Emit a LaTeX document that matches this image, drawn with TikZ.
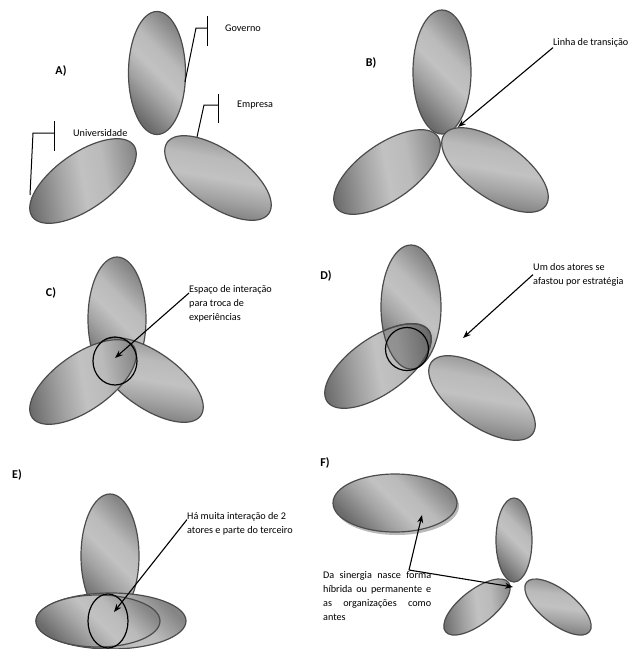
\documentclass[tikz,border=0pt]{standalone}
\usepackage{fontspec}
\setmainfont{Carlito}
\usetikzlibrary{arrows.meta}

\pgfdeclarehorizontalshading{actorshade}{100bp}{color(0bp)=(black!58); color(25bp)=(black!58); color(40bp)=(black!36); color(50bp)=(black!24); color(60bp)=(black!27); color(75bp)=(black!48); color(100bp)=(black!48)}

\tikzset{
  actor/.style={draw=black!70, line width=1.2pt, shading=actorshade, shading angle=#1},
  actor/.default=45,
  ring/.style={draw=black, line width=1.2pt},
  lbl/.style={font=\fontsize{10.2}{14}\selectfont, inner sep=0pt, anchor=west},
  txtblock/.style={font=\fontsize{10.2}{14}\selectfont, inner sep=0pt, anchor=north west, align=left},
  panel/.style={font=\fontsize{12}{14}\selectfont\bfseries, inner sep=0pt},
  pointer/.style={-{Stealth[length=8pt,width=6pt]}, line width=1.1pt},
  tag/.style={line width=1pt}
}

\begin{document}
\begin{tikzpicture}[x=1pt, y=-1pt]
    \useasboundingbox (0,0) rectangle (632,649);

    % A) the three actors apart
    \shade[actor] (157,73) ellipse [x radius=28.5pt, y radius=61.5pt];
    \shade[actor=10, rotate around={35:(83,181)}] (83,181) ellipse [x radius=62pt, y radius=28pt];
    \shade[actor=80, rotate around={-35:(218,178)}] (218,178) ellipse [x radius=62pt, y radius=28pt];
    \node[panel] (a) at (61,71) {A)};
    \node[lbl] (gov) at (225,28) {Governo};
    \node[lbl] (emp) at (237,105) {Empresa};
    \node[lbl] (uni) at (73,133) {Universidade};
    \coordinate (govtick) at (207,28);
    \coordinate (emptick) at (218,105);
    \coordinate (unitick) at (54,133);
    \draw[tag] (185,82) -- (196,28) -- (govtick);
    \draw[tag] ([yshift=12pt]govtick) -- ([yshift=-18pt]govtick);
    \draw[tag] (197,137) -- (204,105) -- (emptick);
    \draw[tag] ([yshift=11pt]emptick) -- ([yshift=-18pt]emptick);
    \draw[tag] (30,195) -- (33,133) -- (unitick);
    \draw[tag] ([yshift=12pt]unitick) -- ([yshift=-18pt]unitick);

    % B) touching at the transition line
    \shade[actor] (442,72) ellipse [x radius=29pt, y radius=62pt];
    \shade[actor=10, rotate around={35:(387,172)}] (387,172) ellipse [x radius=62pt, y radius=28pt];
    \shade[actor=80, rotate around={-35:(495,170)}] (495,170) ellipse [x radius=62pt, y radius=28pt];
    \node[panel] (b) at (371,63) {B)};
    \node[lbl] (btxt) at (553,43) {Linha de transição};
    \coordinate (btip) at (458,127);
    \draw[pointer] (btxt.south west) -- (btip);

    % C) overlapping
    \shade[actor] (117,319) ellipse [x radius=29pt, y radius=62pt];
    \shade[actor=80, rotate around={-35:(150,380)}] (150,380) ellipse [x radius=62pt, y radius=28pt];
    \shade[actor=10, rotate around={35:(83,382)}] (83,382) ellipse [x radius=62pt, y radius=28pt];
    \draw[ring] (115,361) ellipse [x radius=22pt, y radius=24pt];
    \node[panel] (c) at (51,293) {C)};
    \node[txtblock] (ctxt) at (189,285) {Espaço de interação\\para troca de\\experiências};
    \coordinate (ctip) at (115,358);
    \draw[pointer] ([yshift=-8pt]ctxt.north west) -- (ctip);

    % D) one actor moved away
    \shade[actor] (411,307) ellipse [x radius=30pt, y radius=62pt];
    \shade[actor=10, rotate around={35:(378,366)}] (378,366) ellipse [x radius=62pt, y radius=28pt];
    \begin{scope}
        \clip (411,307) ellipse [x radius=30pt, y radius=62pt];
        \fill[black, opacity=.22, rotate around={35:(378,366)}] (378,366) ellipse [x radius=62pt, y radius=28pt];
        \draw[draw=black!70, line width=1.2pt, rotate around={35:(378,366)}] (378,366) ellipse [x radius=62pt, y radius=28pt];
    \end{scope}
    \begin{scope}
        \clip[rotate around={35:(378,366)}] (378,366) ellipse [x radius=62pt, y radius=28pt];
        \draw[draw=black!70, line width=1.2pt] (411,307) ellipse [x radius=30pt, y radius=62pt];
    \end{scope}
    \shade[actor=80, rotate around={-35:(482,398)}] (482,398) ellipse [x radius=62pt, y radius=28pt];
    \draw[ring] (407,349) circle [radius=21.5pt];
    \node[panel] (d) at (326,276) {D)};
    \node[txtblock] (dtxt) at (533,263) {Um dos atores se\\afastou por estratégia};
    \coordinate (dtip) at (463,338);
    \draw[pointer] (dtxt.west) -- (dtip);

    % E) strong interaction of two actors
    \shade[actor] (110,556) ellipse [x radius=29pt, y radius=62pt];
    \shade[actor] (111,621) ellipse [x radius=75pt, y radius=28pt];
    \shade[actor] (98,621) ellipse [x radius=62pt, y radius=26pt];
    \draw[ring] (108,621) ellipse [x radius=20pt, y radius=27pt];
    \node[panel] (e) at (17,475) {E)};
    \node[txtblock] (etxt) at (187,512) {Há muita interação de 2\\atores e parte do terceiro};
    \coordinate (etip) at (114,612);
    \draw[pointer] ([yshift=4pt]etxt.west) -- (etip);

    % F) hybrid form
    \fill[gray!55] (397,506) ellipse [x radius=62pt, y radius=29pt];
    \shade[actor] (395,503) ellipse [x radius=62pt, y radius=29pt];
    \shade[actor] (514,540) ellipse [x radius=18pt, y radius=42pt];
    \shade[actor=7, rotate around={38:(477,607)}] (477,607) ellipse [x radius=40pt, y radius=17pt];
    \shade[actor=83, rotate around={-38:(558,607)}] (558,607) ellipse [x radius=40pt, y radius=17pt];
    \node[panel] (f) at (325,463) {F)};
    \node[txtblock, text width=108pt, align=justify] (ftxt) at (323,571)
        {Da sinergia nasce forma\linebreak híbrida ou permanente e\linebreak as organizações como\linebreak antes};
    \coordinate (fsrc) at (409,570);
    \coordinate (fup) at (422,515);
    \coordinate (fright) at (513,587);
    \draw[pointer] (fsrc) -- (fup);
    \draw[pointer] (fsrc) -- (fright);
\end{tikzpicture}
\end{document}
